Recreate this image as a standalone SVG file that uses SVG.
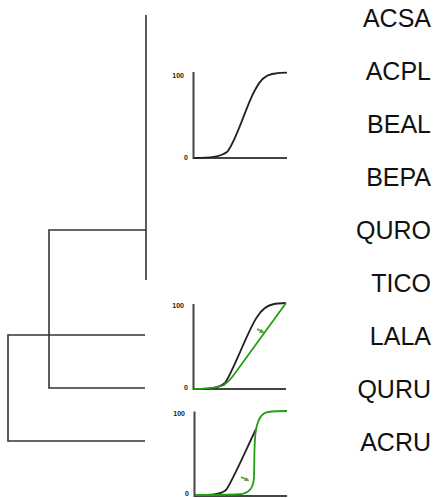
<svg xmlns="http://www.w3.org/2000/svg" width="439" height="498" viewBox="0 0 439 498">
<defs>
<marker id="ah" viewBox="0 0 6 6" refX="5" refY="3" markerWidth="3" markerHeight="3" orient="auto"><path d="M0,0 L6,3 L0,6 z" fill="#5a9a3a"/></marker>
</defs>
<style>
.tree{fill:none;stroke:#333;stroke-width:1.6}
.lbl{font-family:"Liberation Sans",Arial,sans-serif;font-size:25px;fill:#111;text-anchor:end}
.ax{fill:none;stroke:#444;stroke-width:2}
.tk{font-family:"Liberation Sans",Arial,sans-serif;font-size:7px;font-weight:bold;fill:#222;text-anchor:end}
.bk{fill:none;stroke:#222;stroke-width:1.8}
.gr{fill:none;stroke:#22a014;stroke-width:1.8}
.ar{fill:none;stroke:#5a9a3a;stroke-width:1.5;marker-end:url(#ah)}
</style>
<rect width="439" height="498" fill="#fff"/>
<g id="connectors">
<path class="tree" d="M146,15 V280"/>
<path class="tree" d="M146,230 H49 V388 H145"/>
<path class="tree" d="M145,335 H8 V441 H145"/>
</g>
<g id="labels">
<text class="lbl" x="431" y="26.5">ACSA</text>
<text class="lbl" x="431" y="79.5">ACPL</text>
<text class="lbl" x="431" y="132.5">BEAL</text>
<text class="lbl" x="431" y="185.5">BEPA</text>
<text class="lbl" x="431" y="238.5">QURO</text>
<text class="lbl" x="431" y="291.5">TICO</text>
<text class="lbl" x="431" y="344.5">LALA</text>
<text class="lbl" x="431" y="397.5">QURU</text>
<text class="lbl" x="431" y="450.5">ACRU</text>
</g>
<g id="chart1">
<path class="ax" d="M193.5,72 V158 H287"/>
<text class="tk" x="184" y="78">100</text>
<text class="tk" x="188" y="160">0</text>
<path class="bk" d="M194,158 C210,158 220,157 227,152 C236,142 246,106 255,90 C260,80 266,75 272,74 C278,73 283,72.7 287,72.7"/>
</g>
<g id="chart2">
<path class="ax" d="M193.5,304 V389 H286"/>
<text class="tk" x="184" y="308">100</text>
<text class="tk" x="188" y="390">0</text>
<path class="bk" d="M194,389 C210,389 219,388 225,383 C233,372 248,330 257,317 C262,309 268,305 274,304 C279,303.3 283,303.3 286,303"/>
<path class="gr" d="M194,389 C208,389 217,388 224,385 C228,382 230,380 233,376 L286,303"/>
<path class="ar" d="M257,329 L263.5,332.5"/>
</g>
<g id="chart3">
<path class="ax" d="M194.5,411.5 V496 H287"/>
<text class="tk" x="185" y="416">100</text>
<text class="tk" x="189" y="496">0</text>
<path class="bk" d="M195,495 C210,495 220,495 226,490 C232,482 245,452 256,429"/>
<path class="gr" d="M195,495 C215,495 232,495 242,494 C250,492 253,488 254,478 C254.5,460 254,440 256,430 C258,418 262,413 268,412 C275,411 282,411 287,411"/>
<path class="ar" d="M241,477 L248.5,480.5"/>
</g>
</svg>
